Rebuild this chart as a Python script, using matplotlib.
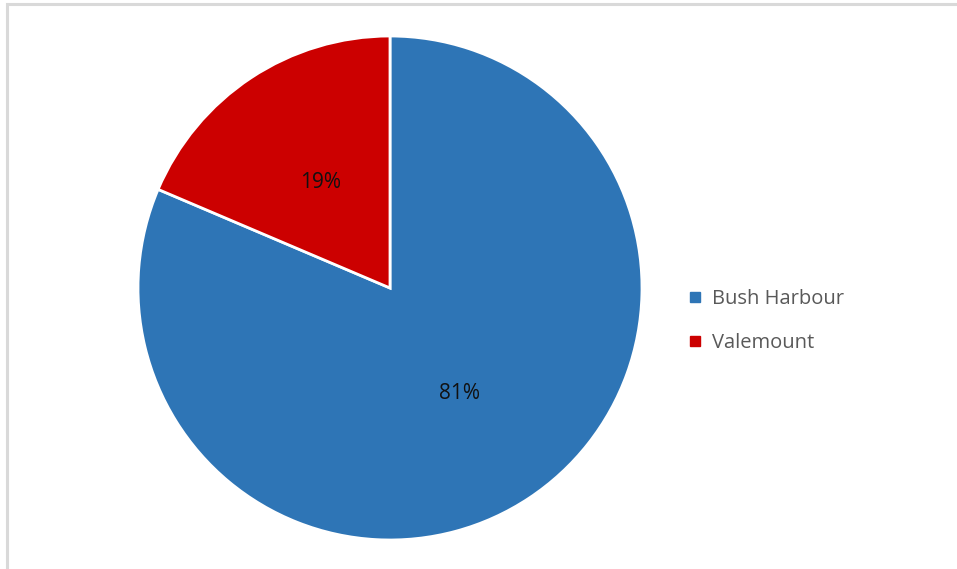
import matplotlib.pyplot as plt
from matplotlib.lines import Line2D
from matplotlib.patches import Rectangle

labels = ["Bush Harbour", "Valemount"]
shares = [81.4, 18.6]
colors = ["#2E75B6", "#CC0000"]

W, H = 957, 569
fig = plt.figure(figsize=(W / 100, H / 100), dpi=100)

# light frame round the chart (top and left edges show)
fig.patches.append(Rectangle((7 / W, -0.05), 1.1, (H - 4) / H + 0.05,
                             transform=fig.transFigure, fill=False,
                             edgecolor="#D9D9D9", linewidth=2.2))

ax = fig.add_axes([138 / W, 29 / H, 504 / W, 504 / H])
wedges, _, autotexts = ax.pie(shares, colors=colors, startangle=90, counterclock=False,
                              autopct="%.0f%%", pctdistance=0.5,
                              wedgeprops=dict(edgecolor="white", linewidth=2),
                              textprops=dict(fontsize=15, color="#111111", family="Open Sans"))
ax.set_xlim(-1, 1)
ax.set_ylim(-1, 1)
ax.set_aspect("equal")

handles = [Line2D([], [], marker="s", linestyle="", markersize=7, color=c) for c in colors]
fig.legend(handles, labels, loc="center left", bbox_to_anchor=(669 / W, 1 - 321 / H),
           frameon=False, handlelength=0.8, handletextpad=0.45, labelspacing=1.15,
           prop=dict(family="Open Sans", size=14.5), labelcolor="#595959")

plt.savefig("out.png", dpi=100)
